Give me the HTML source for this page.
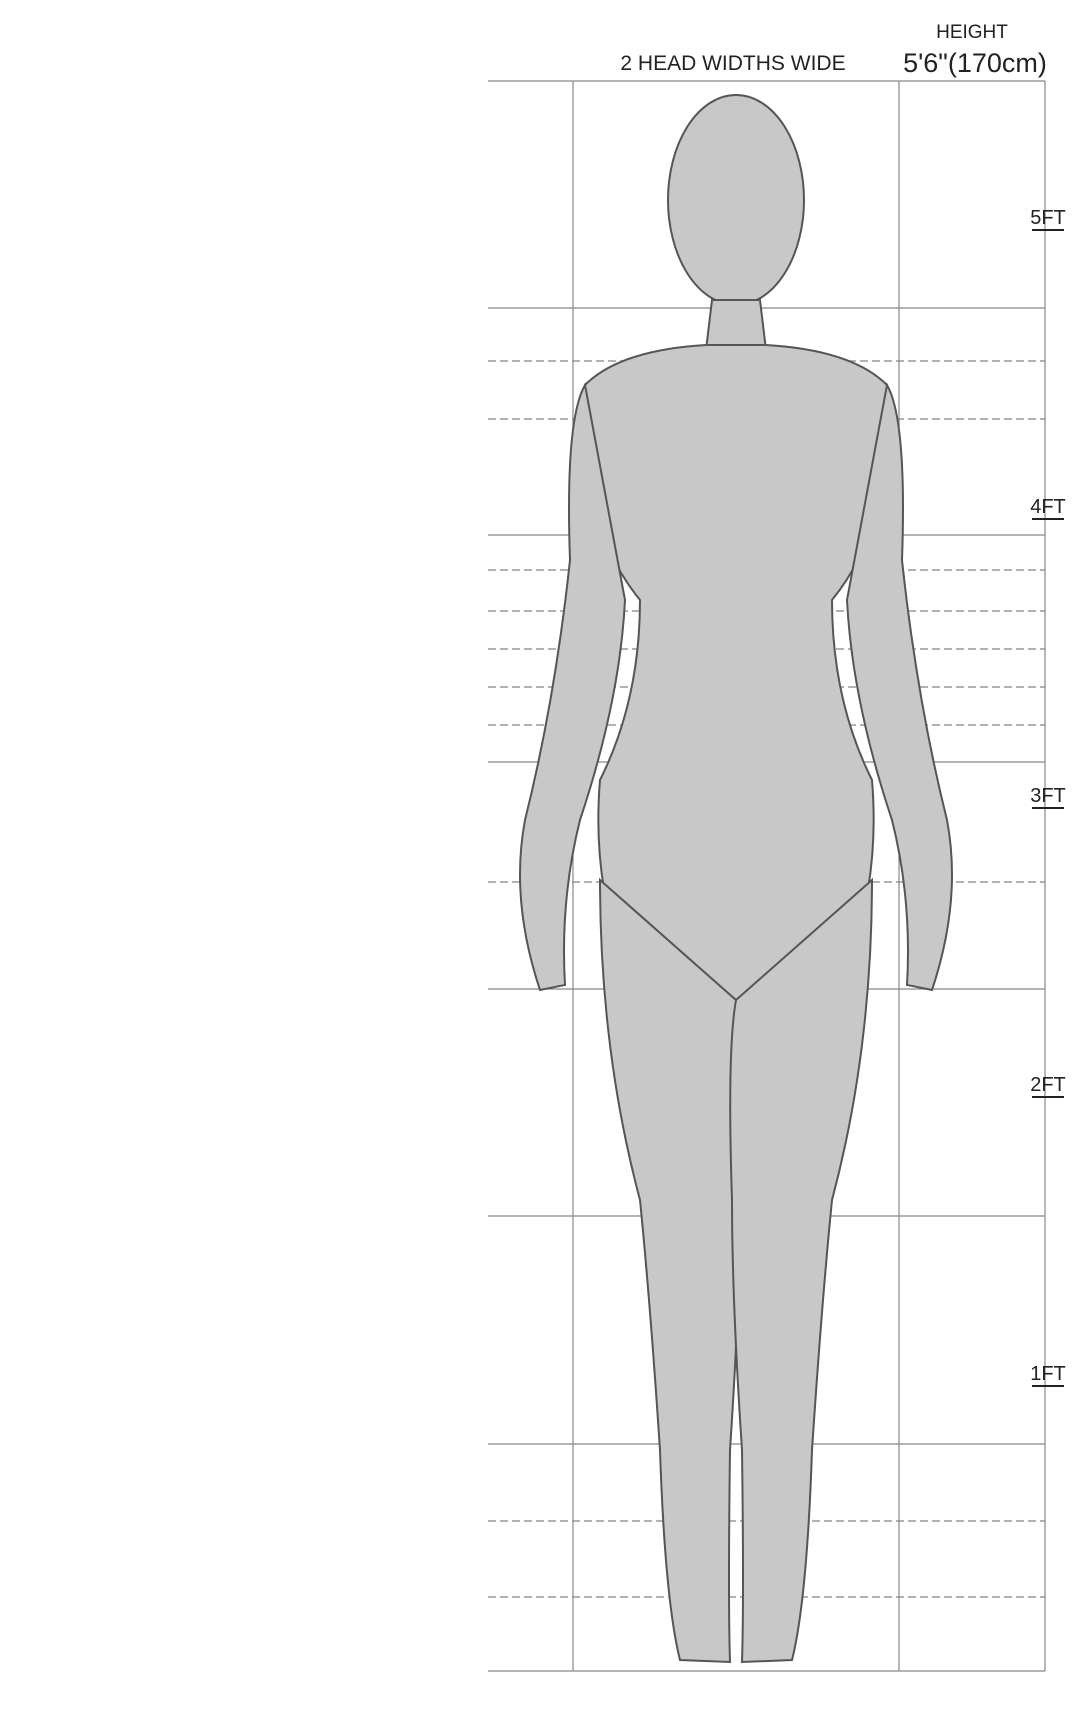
<!DOCTYPE html>
<html><head><meta charset="utf-8">
<style>
html,body{margin:0;padding:0;background:#fff;}
svg{display:block;}
text{font-family:"Liberation Sans",sans-serif;fill:#222;}
</style></head>
<body>
<svg id="chart" width="1086" height="1718" viewBox="0 0 1086 1718">
  <g id="grid"></g>
  <g id="figure" fill="#c8c8c8" stroke="#555" stroke-width="2">
    <ellipse cx="736" cy="200" rx="68" ry="105"/>
    <path d="M712 300 L760 300 L766 350 L706 350 Z"/>
    <path d="M706 345 Q620 350 585 385 Q575 520 640 600 Q640 700 600 780 Q590 900 640 1000 L736 1000 L832 1000 Q882 900 872 780 Q832 700 832 600 Q897 520 887 385 Q852 350 766 345 Z"/>
    <path d="M585 385 Q565 420 570 560 Q555 700 525 820 Q510 900 540 990 L565 985 Q560 900 580 820 Q620 700 625 600 Z"/>
    <path d="M887 385 Q907 420 902 560 Q917 700 947 820 Q962 900 932 990 L907 985 Q912 900 892 820 Q852 700 847 600 Z"/>
    <path d="M600 880 Q600 1050 640 1200 Q650 1300 660 1450 Q665 1600 680 1660 L730 1662 Q728 1600 730 1450 Q740 1300 740 1200 Q745 1050 736 1000 Z"/>
    <path d="M872 880 Q872 1050 832 1200 Q822 1300 812 1450 Q807 1600 792 1660 L742 1662 Q744 1600 742 1450 Q732 1300 732 1200 Q727 1050 736 1000 Z"/>
  </g>
  <g id="labels"></g>
</svg>
<script>
const solidLines=[81,308,535,762,989,1216,1444,1671];
const dashedLines=[361,419,570,611,649,687,725,882,1521,1597];
const verticalLines=[573,899,1045];
const footTicks=[1,2,3,4,5];
const footTickLabels=["1FT","2FT","3FT","4FT","5FT"];
const NS="http://www.w3.org/2000/svg";
const grid=document.getElementById('grid');
const labels=document.getElementById('labels');
const x0=488,x1=1045,yBase=1671,pxPerFt=289;
function yFt(f){return yBase-f*pxPerFt;}
function line(x1_,y1,x2,y2,dash,name){
  const l=document.createElementNS(NS,'line');
  l.setAttribute('x1',x1_);l.setAttribute('y1',y1);l.setAttribute('x2',x2);l.setAttribute('y2',y2);
  l.setAttribute('stroke',dash?'#999':'#888');l.setAttribute('stroke-width',dash?1.5:1.2);
  if(dash)l.setAttribute('stroke-dasharray','8 4');
  
  
  grid.appendChild(l);
}
solidLines.forEach(y=>line(x0,y,x1,y,false,'head-line'));
dashedLines.forEach(y=>line(x0,y,x1,y,true,'landmark-line'));
verticalLines.forEach(x=>line(x,solidLines[0],x,yBase,false,'vertical-line'));
function txt(s,x,y,size,name){
  const t=document.createElementNS(NS,'text');
  t.setAttribute('x',x);t.setAttribute('y',y);t.setAttribute('font-size',size);
  t.setAttribute('text-anchor','middle');t.textContent=s;
  
  
  labels.appendChild(t);
  return t;
}
footTicks.forEach((f,i)=>{
  const y=yFt(f)-2;
  txt(footTickLabels[i],1048,y,20,'foot-tick-label');
  const u=document.createElementNS(NS,'line');
  u.setAttribute('x1',1032);u.setAttribute('x2',1064);u.setAttribute('y1',y+6);u.setAttribute('y2',y+6);
  u.setAttribute('stroke','#222');u.setAttribute('stroke-width',2);
  
  
  labels.appendChild(u);
});
txt('2 HEAD WIDTHS WIDE',733,70,21,'width-title');
txt('HEIGHT',972,38,19,'height-title');
txt('5\'6"(170cm)',975,72,27,'height-value');
</script>
</body></html>
